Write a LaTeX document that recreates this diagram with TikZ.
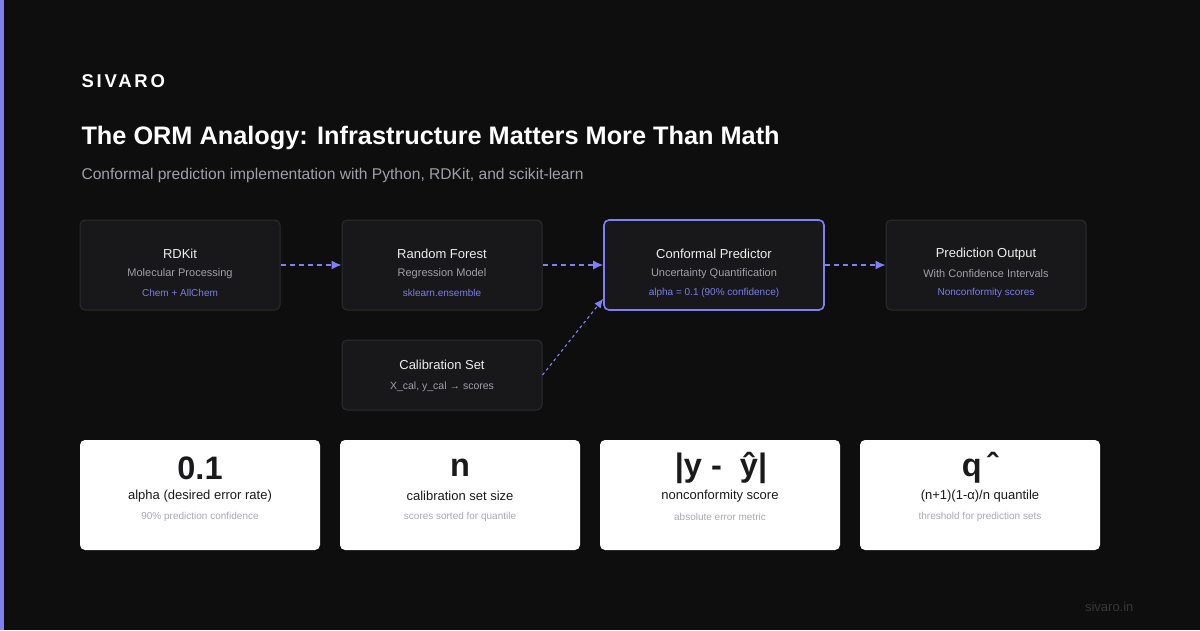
\documentclass[tikz,border=0pt]{standalone}
\usepackage{fontspec}
\setmainfont{Liberation Sans}
\newfontfamily\brandfont[LetterSpace=15]{Liberation Sans}
\usepackage{tikz}
\usetikzlibrary{arrows.meta}

\definecolor{bgdark}{HTML}{0E0E0F}
\definecolor{accent}{HTML}{8080F0}
\definecolor{accenttxt}{HTML}{7C7CE8}
\definecolor{boxfill}{HTML}{18181B}
\definecolor{boxline}{HTML}{2C2C30}
\definecolor{headtxt}{HTML}{EDEDF0}
\definecolor{subtxt}{HTML}{A0A0A8}
\definecolor{cardtxt}{HTML}{1A1A1C}
\definecolor{cardsub}{HTML}{A8A8B2}
\definecolor{foottxt}{HTML}{37373C}

\newcommand{\fsz}[1]{\fontsize{#1}{#1}\selectfont}

\begin{document}
\begin{tikzpicture}[x=1pt, y=-1pt,
    stage/.style = {draw=boxline, fill=boxfill, line width=1pt, rounded corners=5pt, minimum height=90pt, minimum width=200pt, inner sep=0pt},
    card/.style = {fill=white, rounded corners=5pt, minimum width=240pt, minimum height=110pt, inner sep=0pt},
    head/.style = {text=headtxt, font=\fsz{13}},
    desc/.style = {text=subtxt, font=\fsz{11}},
    tag/.style = {text=accenttxt, font=\fsz{10}},
    big/.style = {text=cardtxt, font=\fsz{32.5}\bfseries},
    lbl/.style = {text=cardtxt, font=\fsz{13}},
    note/.style = {text=cardsub, font=\fsz{10}},
    flow/.style = {draw=accent, line width=1.4pt, dash pattern=on 5pt off 4pt, -{Latex[length=10pt,width=9pt]}}]
        \useasboundingbox (0,0) rectangle (1200,630);
        \fill[bgdark] (0,0) rectangle (1200,630);
        \fill[accent] (0,0) rectangle (4,630);
        \node[anchor=west, text=white, font=\fsz{18.5}\brandfont\bfseries] (brand) at (78,81) {SIVARO};
        \node[anchor=west, text=white, font=\fsz{25.3}\bfseries] (title) at (78,138) {The ORM Analogy: Infrastructure Matters More Than Math};
        \node[anchor=west, text=subtxt, font=\fsz{15.6}] (subtitle) at (78,175) {Conformal prediction implementation with Python, RDKit, and scikit-learn};
        % pipeline
        \node[stage] (rd) at (180,265) {};
        \node[stage] (rf) at (442,265) {};
        \node[stage, draw=accent, line width=1.6pt, minimum width=220pt] (cp) at (714,265) {};
        \node[stage] (po) at (986,265) {};
        \node[stage, minimum height=70pt] (cal) at (442,375) {};
        \node[head] (rdh) at (180,254) {RDKit};
        \node[desc] (rdd) at (180,274) {Molecular Processing};
        \node[tag] (rdt) at (180,293) {Chem + AllChem};
        \node[head] (rfh) at (442,254) {Random Forest};
        \node[desc] (rfd) at (442,274) {Regression Model};
        \node[tag] (rft) at (442,293) {sklearn.ensemble};
        \node[head] (cph) at (714,254) {Conformal Predictor};
        \node[desc] (cpd) at (714,274) {Uncertainty Quantification};
        \node[tag] (cpt) at (714,293) {alpha = 0.1 (90\% confidence)};
        \node[head] (poh) at (986,254) {Prediction Output};
        \node[desc] (pod) at (986,274) {With Confidence Intervals};
        \node[tag] (pot) at (986,293) {Nonconformity scores};
        \node[head] (calh) at (442,365) {Calibration Set};
        \node[desc, font=\fsz{10.5}] (cald) at (442,387) {X\_cal, y\_cal → scores};
        \draw[flow] (rd) -- (rf);
        \draw[flow] (rf) -- (cp);
        \draw[flow] (cp) -- (po);
        \draw[flow, line width=1.1pt, dash pattern=on 3pt off 3pt, -{Latex[length=9pt,width=8pt]}] (cal.east) -- ([yshift=12pt]cp.south west);
        % cards
        \node[card] (c1) at (200,495) {};
        \node[card] (c2) at (460,495) {};
        \node[card] (c3) at (720,495) {};
        \node[card] (c4) at (980,495) {};
        \node[big] (v1) at (200,468) {0.1};
        \node[lbl] (l1) at (200,496) {alpha (desired error rate)};
        \node[note] (n1) at (200,517) {90\% prediction confidence};
        \node[big] (v2) at (460,468) {n};
        \node[lbl] (l2) at (460,496) {calibration set size};
        \node[note] (n2) at (460,517) {scores sorted for quantile};
        \node[big] (v3) at (721,468) {|y - \ ŷ|};
        \node[lbl] (l3) at (720,496) {nonconformity score};
        \node[note] (n3) at (720,517) {absolute error metric};
        \node[big] (v4) at (980,468) {q\,ˆ};
        \node[lbl] (l4) at (980,496) {(n+1)(1-α)/n quantile};
        \node[note] (n4) at (980,517) {threshold for prediction sets};
        \node[anchor=east, text=foottxt, font=\fsz{13}] (site) at (1137,607) {sivaro.in};
      \end{tikzpicture}
\end{document}
